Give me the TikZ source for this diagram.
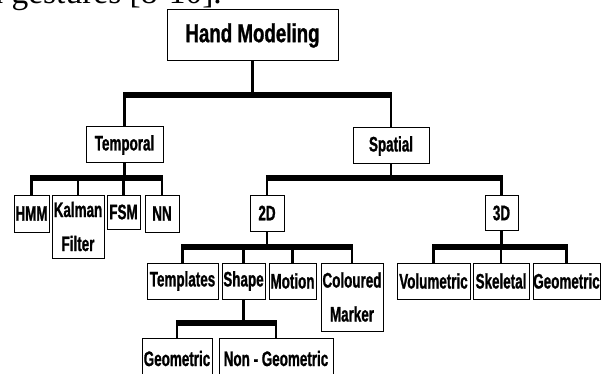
\documentclass[tikz,border=0pt]{standalone}
\usepackage{fontspec}
\setmainfont{Liberation Serif}
\newfontfamily\boxfont{Liberation Sans}[FakeStretch=0.64, FakeBold=1]
\newfontfamily\topfont{Liberation Sans}[FakeStretch=0.72, FakeBold=1]
\usetikzlibrary{positioning,calc}

\tikzset{
  box/.style={draw, line width=1pt, inner sep=0pt, align=center,
    font=\boxfont\bfseries\fontsize{21}{34}\selectfont},
  stem/.style={line width=2.5pt},
  bar/.style={line width=6pt, shorten <=-1.25pt, shorten >=-1.25pt}
}

\begin{document}
\begin{tikzpicture}[x=1pt, y=-1pt]
  \useasboundingbox (0,0) rectangle (607,374);
  \clip (0,0) rectangle (607,374);

  % Text above
  \node[anchor=base east, inner sep=0pt, font=\fontsize{33.5}{40}\selectfont] (head) at (222,4) {and gestures [8-10].};

  % Boxes
  \node[box, minimum width=171pt, minimum height=51pt, font=\topfont\bfseries\fontsize{26}{30}\selectfont] (hm) at (252.5,35.5) {Hand Modeling};
  \node[box, minimum width=77pt, minimum height=36pt] (temp) at (124.5,145) {Temporal};
  \node[box, minimum width=76pt, minimum height=36pt] (spat) at (391,146) {Spatial};

  \node[box, minimum width=35pt, minimum height=37pt] (hmm) at (31.5,213.5) {HMM};
  \node[box, minimum width=52pt, minimum height=63pt] (kal) at (78,226.5) {Kalman\\Filter};
  \node[box, minimum width=33pt, minimum height=34pt] (fsm) at (123.5,212) {FSM};
  \node[box, minimum width=34pt, minimum height=37pt] (nn) at (162,213.5) {NN};

  \node[box, minimum width=34pt, minimum height=36pt] (twod) at (267,213) {2D};
  \node[box, minimum width=33pt, minimum height=35pt] (threed) at (501.5,213) {3D};

  \node[box, minimum width=71pt, minimum height=36pt] (tmpl) at (182.5,281) {Templates};
  \node[box, minimum width=43pt, minimum height=36pt] (shape) at (243.5,281) {Shape};
  \node[box, minimum width=47pt, minimum height=36pt] (motion) at (292.5,281) {Motion};
  \node[box, minimum width=62pt, minimum height=68pt] (colmark) at (352,297) {Coloured\\Marker};

  \node[box, minimum width=73pt, minimum height=36pt] (vol) at (433.5,281) {Volumetric};
  \node[box, minimum width=56pt, minimum height=36pt] (skel) at (501,281) {Skeletal};
  \node[box, minimum width=67pt, minimum height=36pt] (geothree) at (566.5,281) {Geometric};

  \node[box, minimum width=70pt, minimum height=40pt, anchor=north] (geotwo) at (177,338) {Geometric};
  \node[box, minimum width=114pt, minimum height=40pt, anchor=north] (nongeo) at (276,338) {Non - Geometric};

  % Bar levels
  \coordinate (ytop) at (0,95);
  \coordinate (ytemp) at (0,178);
  \coordinate (yspat) at (0,178);
  \coordinate (ytwod) at (0,247);
  \coordinate (ythreed) at (0,247);
  \coordinate (yshape) at (0,323);

  % Hand Modeling
  \draw[stem] (hm.south) -- (hm.south |- ytop);
  \draw[bar] (temp.north |- ytop) -- (spat.north |- ytop);
  \foreach \c in {temp,spat}
    \draw[stem] (\c.north |- ytop) -- (\c.north);

  % Temporal
  \draw[stem] (temp.south) -- (temp.south |- ytemp);
  \draw[bar] (hmm.north |- ytemp) -- (nn.north |- ytemp);
  \foreach \c in {hmm,kal,fsm,nn}
    \draw[stem] (\c.north |- ytemp) -- (\c.north);

  % Spatial
  \draw[stem] (spat.south) -- (spat.south |- yspat);
  \draw[bar] (twod.north |- yspat) -- (threed.north |- yspat);
  \foreach \c in {twod,threed}
    \draw[stem] (\c.north |- yspat) -- (\c.north);

  % 2D
  \draw[stem] (twod.south) -- (twod.south |- ytwod);
  \draw[bar] (tmpl.north |- ytwod) -- (colmark.north |- ytwod);
  \foreach \c in {tmpl,shape,motion,colmark}
    \draw[stem] (\c.north |- ytwod) -- (\c.north);

  % 3D
  \draw[stem] (threed.south) -- (threed.south |- ythreed);
  \draw[bar] (vol.north |- ythreed) -- (geothree.north |- ythreed);
  \foreach \c in {vol,skel,geothree}
    \draw[stem] (\c.north |- ythreed) -- (\c.north);

  % Shape
  \draw[stem] (shape.south) -- (shape.south |- yshape);
  \draw[bar] (geotwo.north |- yshape) -- (nongeo.north |- yshape);
  \foreach \c in {geotwo,nongeo}
    \draw[stem] (\c.north |- yshape) -- (\c.north);
\end{tikzpicture}
\end{document}
